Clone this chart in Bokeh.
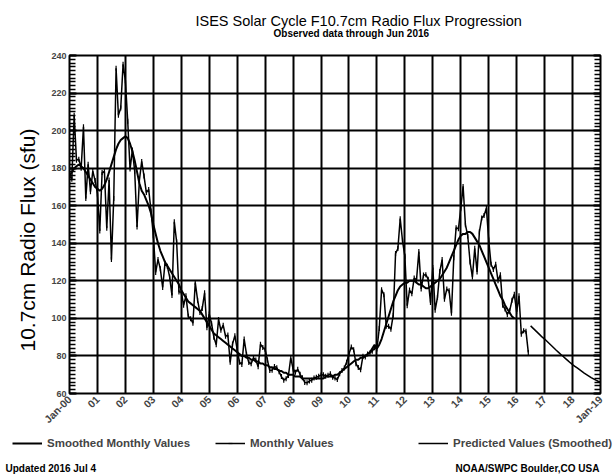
import math
from bokeh.plotting import figure
from bokeh.layouts import column
from bokeh.models import FixedTicker, LinearAxis, Range1d, Legend, LegendItem, Title, Label
from bokeh.embed import file_html
from bokeh.resources import INLINE

# ---------------- data ----------------
years = list(range(2000, 2020))
year_labels = ["Jan-00", "01", "02", "03", "04", "05", "06", "07", "08", "09",
               "10", "11", "12", "13", "14", "15", "16", "17", "18", "Jan-19"]
y_ticks = [60, 80, 100, 120, 140, 160, 180, 200, 220, 240]
y_minor = list(range(60, 241, 2))

# Monthly observed F10.7 values, Jan 2000 .. Jun 2016
monthly_2000 = [176.0, 174.1, 208.2, 184.2, 184.8, 179.9, 202.0, 163.8, 182.1, 167.5, 178.4, 173.4]
monthly_2001 = [166.3, 146.6, 177.7, 178.2, 148.0, 173.7, 131.3, 163.9, 233.2, 208.2, 212.0, 235.3]
monthly_2002 = [226.6, 205.0, 179.5, 189.7, 178.3, 148.7, 173.5, 183.6, 175.8, 167.0, 168.7, 157.2]
monthly_2003 = [144.0, 124.5, 131.4, 126.4, 116.5, 129.3, 127.7, 122.1, 112.2, 151.4, 140.8, 114.1]
monthly_2004 = [114.1, 107.0, 112.0, 101.2, 99.8, 97.4, 119.1, 109.7, 103.1, 105.3, 113.6, 95.0]
monthly_2005 = [102.3, 97.2, 89.9, 86.0, 99.4, 93.7, 96.4, 90.5, 91.1, 76.6, 86.3, 90.8]
monthly_2006 = [83.4, 76.6, 75.5, 89.0, 80.9, 76.5, 75.8, 79.0, 77.8, 74.3, 86.2, 84.5]
monthly_2007 = [83.5, 77.8, 72.2, 72.4, 74.4, 73.7, 71.6, 69.0, 67.1, 67.9, 69.6, 79.0]
monthly_2008 = [73.1, 71.3, 72.9, 70.2, 68.4, 65.9, 65.7, 66.6, 67.1, 68.3, 68.6, 69.2]
monthly_2009 = [69.8, 70.0, 69.2, 69.7, 70.5, 68.6, 68.2, 67.4, 70.5, 72.3, 73.6, 76.7]
monthly_2010 = [81.1, 84.7, 83.3, 75.9, 73.8, 72.6, 79.9, 79.4, 81.1, 81.6, 82.5, 84.4]
monthly_2011 = [83.7, 94.6, 115.3, 112.6, 95.8, 95.8, 94.2, 101.7, 134.5, 137.2, 153.1, 141.2]
monthly_2012 = [133.1, 106.7, 115.1, 113.1, 121.5, 120.5, 135.6, 115.7, 123.1, 123.3, 120.9, 108.4]
monthly_2013 = [127.1, 104.4, 111.2, 125.0, 131.3, 110.2, 115.6, 114.7, 102.7, 132.3, 148.3, 147.7]
monthly_2014 = [158.6, 170.3, 149.9, 143.9, 130.0, 122.0, 137.3, 124.7, 146.1, 153.4, 154.8, 158.7]
monthly_2015 = [141.7, 128.8, 126.0, 128.8, 120.1, 123.2, 107.0, 105.0, 102.1, 104.1, 109.6, 112.8]
monthly_2016 = [103.5, 112.0, 91.6, 93.4, 93.1, 81.9]

# 13-month smoothed values, Jan 2000 .. Dec 2015
smoothed_2000 = [176, 178, 180, 181, 182, 181, 180, 178, 176, 174, 172, 170]
smoothed_2001 = [169, 168, 169, 171, 174, 178, 182, 186, 190, 193, 195, 196]
smoothed_2002 = [197, 196, 193, 189, 184, 178, 172, 168, 166, 163, 160, 156]
smoothed_2003 = [150, 145, 140, 136, 133, 130, 128, 126, 124, 122, 120, 118]
smoothed_2004 = [115, 113, 111, 109, 108, 107, 106, 105, 104, 102, 100, 98]
smoothed_2005 = [96, 94, 92, 91, 90, 89, 88, 87, 86, 85, 84, 83]
smoothed_2006 = [82, 81, 80, 80, 79, 79, 78, 78, 77, 77, 76, 76]
smoothed_2007 = [75, 75, 74, 74, 73, 73, 72, 72, 71, 71, 70, 70]
smoothed_2008 = [70, 69, 69, 69, 68, 68, 68, 68, 68, 68, 68, 68]
smoothed_2009 = [68, 68, 69, 69, 69, 69, 70, 70, 71, 72, 73, 74]
smoothed_2010 = [75, 76, 77, 78, 78, 79, 79, 80, 81, 82, 84, 86]
smoothed_2011 = [84, 86, 89, 93, 97, 101, 105, 109, 112, 115, 117, 118]
smoothed_2012 = [119, 119, 120, 120, 120, 119, 118, 118, 117, 116, 116, 117]
smoothed_2013 = [118, 119, 120, 121, 123, 125, 127, 130, 133, 136, 139, 142]
smoothed_2014 = [144, 145, 145, 146, 146, 145, 143, 141, 139, 136, 133, 130]
smoothed_2015 = [127, 124, 121, 118, 115, 112, 110, 107, 105, 103, 101, 100]

# Predicted smoothed values, Jul 2016 .. Jan 2019
predicted = [96.0, 94.8, 93.6, 92.4, 91.2, 90.0,
             89.0, 87.8, 86.6, 85.4, 84.2, 83.0, 81.9, 80.8, 79.7, 78.6, 77.5, 76.4,
             75.4, 74.5, 73.6, 72.7, 71.8, 70.9, 70.1, 69.3, 68.5, 67.8, 67.1, 66.5,
             66.0]

monthly = (monthly_2000 + monthly_2001 + monthly_2002 + monthly_2003 + monthly_2004 +
           monthly_2005 + monthly_2006 + monthly_2007 + monthly_2008 + monthly_2009 +
           monthly_2010 + monthly_2011 + monthly_2012 + monthly_2013 + monthly_2014 +
           monthly_2015 + monthly_2016)
smoothed = (smoothed_2000 + smoothed_2001 + smoothed_2002 + smoothed_2003 + smoothed_2004 +
            smoothed_2005 + smoothed_2006 + smoothed_2007 + smoothed_2008 + smoothed_2009 +
            smoothed_2010 + smoothed_2011 + smoothed_2012 + smoothed_2013 + smoothed_2014 +
            smoothed_2015)

monthly_x = [2000 + i / 12 for i in range(len(monthly))]
smoothed_x = [2000 + i / 12 for i in range(len(smoothed))]
predicted_x = [2016.5 + i / 12 for i in range(len(predicted))]

FONT = "Liberation Sans"
W = 613


def no_align(f):
    if "frame_align" in f.properties():
        f.frame_align = False
    return f


def blank_figure(height):
    f = figure(width=W, height=height, output_backend="svg", toolbar_location=None,
               title=None, x_axis_type=None, y_axis_type=None,
               x_range=Range1d(0, 1), y_range=Range1d(0, 1),
               min_border_left=0, min_border_right=0, min_border_top=0, min_border_bottom=0,
               background_fill_color="white", border_fill_color="white")
    f.outline_line_color = None
    f.xgrid.visible = False
    f.ygrid.visible = False
    return no_align(f)


# ---------------- header ----------------
head = blank_figure(44)
head.add_layout(Label(x=195, y=24, x_units="screen", y_units="screen",
                      text="ISES Solar Cycle F10.7cm Radio Flux Progression",
                      text_align="left", text_baseline="middle",
                      text_font=FONT, text_font_size="14.5px", text_color="black"))
head.add_layout(Label(x=273, y=11, x_units="screen", y_units="screen",
                      text="Observed data through Jun 2016",
                      text_align="left", text_baseline="middle",
                      text_font=FONT, text_font_style="bold", text_font_size="10px",
                      text_color="black"))

# ---------------- main chart ----------------
p = figure(width=W, height=388, output_backend="svg", toolbar_location=None, title=None,
           x_range=Range1d(2000, 2019), y_range=Range1d(60, 240),
           min_border_left=69, min_border_right=13, min_border_top=11, min_border_bottom=37,
           background_fill_color="white", border_fill_color="white")
no_align(p)
p.outline_line_color = "black"
p.outline_line_width = 2

p.xgrid.ticker = FixedTicker(ticks=years)
p.ygrid.ticker = FixedTicker(ticks=y_ticks)
for g in (p.xgrid, p.ygrid):
    g.grid_line_color = "black"
    g.grid_line_width = 2
    g.grid_line_alpha = 1.0

xa = p.xaxis[0]
xa.ticker = FixedTicker(ticks=years)
xa.major_label_overrides = {y: lab for y, lab in zip(years, year_labels)}
xa.major_label_orientation = math.pi / 4
xa.major_label_text_font = FONT
xa.major_label_text_font_style = "bold"
xa.major_label_text_font_size = "10.5px"
xa.major_label_standoff = 4
xa.major_tick_in = 0
xa.major_tick_out = 0
xa.minor_tick_in = 0
xa.minor_tick_out = 0
xa.axis_line_color = None

ya = p.yaxis[0]
ya.ticker = FixedTicker(ticks=y_ticks, minor_ticks=y_minor)
ya.major_label_text_font = FONT
ya.major_label_text_font_style = "bold"
ya.major_label_text_font_size = "9px"
ya.major_label_standoff = 3
ya.major_tick_in = 7
ya.major_tick_out = 0
ya.minor_tick_in = 6
ya.minor_tick_out = 0
ya.major_tick_line_width = 2
ya.minor_tick_line_width = 1.5
ya.axis_line_color = None

ra = LinearAxis(ticker=FixedTicker(ticks=y_ticks, minor_ticks=y_minor))
ra.major_label_text_font_size = "1px"
ra.major_label_text_color = None
ra.major_label_standoff = 0
ra.major_tick_in = 7
ra.major_tick_out = 0
ra.minor_tick_in = 6
ra.minor_tick_out = 0
ra.major_tick_line_width = 2
ra.minor_tick_line_width = 1.5
ra.axis_line_color = None
p.add_layout(ra, "right")

ylab = Title(text="10.7cm Radio Flux (sfu)", align="left", offset=42, standoff=19,
             text_font=FONT, text_font_style="normal", text_font_size="21px", text_color="black")
p.add_layout(ylab, "left")

SMOOTH_STYLE = dict(line_color="black", line_width=2)
MONTH_STYLE = dict(line_color="black", line_width=1.5)
MARK_STYLE = dict(marker="dash", angle=math.pi / 2, size=5, line_color="black", line_width=1.2)
PRED_STYLE = dict(line_color="black", line_width=1.5)

p.line(smoothed_x, smoothed, **SMOOTH_STYLE)
p.line(monthly_x, monthly, **MONTH_STYLE)
p.scatter(monthly_x, monthly, **MARK_STYLE)
p.line(predicted_x, predicted, **PRED_STYLE)

# ---------------- footer: legend + notes ----------------
# legend keys reuse the series (they fall outside this small frame and are clipped;
# only their legend swatches are shown)
foot = blank_figure(44)
k_smooth = foot.line(smoothed_x, smoothed, **SMOOTH_STYLE)
k_month = foot.line(monthly_x, monthly, **MONTH_STYLE)
k_mark = foot.scatter(monthly_x, monthly, **MARK_STYLE)
k_pred = foot.line(predicted_x, predicted, **PRED_STYLE)
leg = Legend(items=[LegendItem(label="Smoothed Monthly Values", renderers=[k_smooth]),
                    LegendItem(label="Monthly Values", renderers=[k_month, k_mark]),
                    LegendItem(label="Predicted Values (Smoothed)", renderers=[k_pred])],
             orientation="horizontal", location=(12, 27),
             background_fill_alpha=0, border_line_alpha=0,
             label_text_font=FONT, label_text_font_style="bold", label_text_font_size="11.5px",
             glyph_width=30, glyph_height=10, label_width=160, label_standoff=5,
             spacing=8, padding=0, margin=0)
foot.add_layout(leg, "center")
foot.add_layout(Label(x=5, y=8, x_units="screen", y_units="screen",
                      text="Updated 2016 Jul 4", text_align="left", text_baseline="middle",
                      text_font=FONT, text_font_style="bold", text_font_size="10px",
                      text_color="black"))
foot.add_layout(Label(x=455, y=8, x_units="screen", y_units="screen",
                      text="NOAA/SWPC Boulder,CO USA", text_align="left", text_baseline="middle",
                      text_font=FONT, text_font_style="bold", text_font_size="10px",
                      text_color="black"))

layout = column(head, p, foot, spacing=0)
open("out.html", "w").write(file_html(layout, INLINE))
